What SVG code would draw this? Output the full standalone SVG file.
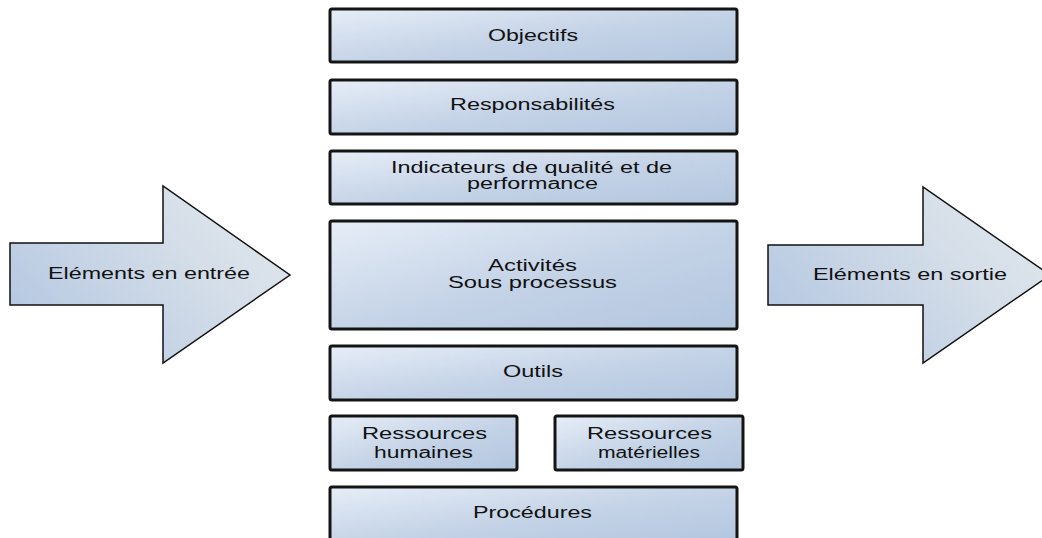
<svg xmlns="http://www.w3.org/2000/svg" width="1042" height="538" viewBox="0 0 1042 538">
<defs>
<linearGradient id="gb" x1="0" y1="0" x2="1" y2="1">
<stop offset="0" stop-color="#e6edf7"/>
<stop offset="0.55" stop-color="#c3d2e6"/>
<stop offset="1" stop-color="#b3c6df"/>
</linearGradient>
<linearGradient id="ga" x1="0" y1="0.6" x2="1" y2="0">
<stop offset="0" stop-color="#b8cae2"/>
<stop offset="0.6" stop-color="#d6dfe9"/>
<stop offset="1" stop-color="#e2e7ec"/>
</linearGradient>
<linearGradient id="ga2" x1="0" y1="0" x2="0.3" y2="1">
<stop offset="0" stop-color="#dde4ec" stop-opacity="0"/>
<stop offset="1" stop-color="#b8c9e1" stop-opacity="0.6"/>
</linearGradient>
</defs>
<style>
.box{fill:url(#gb);stroke:#141414;stroke-width:3;}
.arr{fill:url(#ga);stroke:#111;stroke-width:1.5;stroke-linejoin:miter;}
text{font-family:"Liberation Sans",Arial,sans-serif;font-size:16px;fill:#111;text-anchor:middle;}
</style>
<rect width="1042" height="538" fill="#fff"/>
<g id="entree">
<path class="arr" d="M10,243 L163,243 L163,186 L290,275 L163,363 L163,305 L10,305 Z"/>
<text x="149" y="279" textLength="202" lengthAdjust="spacingAndGlyphs">Eléments en entrée</text>
</g>
<g id="sortie">
<path class="arr" d="M768,245 L923,245 L923,187 L1050,275 L923,363 L923,305 L768,305 Z"/>
<text x="910" y="280" textLength="194" lengthAdjust="spacingAndGlyphs">Eléments en sortie</text>
</g>
<g id="objectifs">
<rect class="box" x="330" y="9" width="407" height="53" rx="2"/>
<text x="533" y="41" textLength="90" lengthAdjust="spacingAndGlyphs">Objectifs</text>
</g>
<g id="responsabilites">
<rect class="box" x="330" y="80" width="407" height="54" rx="2"/>
<text x="532.5" y="110" textLength="165" lengthAdjust="spacingAndGlyphs">Responsabilités</text>
</g>
<g id="indicateurs">
<rect class="box" x="330" y="151" width="407" height="53" rx="2"/>
<text x="531.5" y="173" textLength="281" lengthAdjust="spacingAndGlyphs">Indicateurs de qualité et de</text>
<text x="532.5" y="189" textLength="131" lengthAdjust="spacingAndGlyphs">performance</text>
</g>
<g id="activites">
<rect class="box" x="330" y="221" width="407" height="108" rx="2"/>
<text x="532.5" y="271" textLength="89" lengthAdjust="spacingAndGlyphs">Activités</text>
<text x="532.5" y="288" textLength="169" lengthAdjust="spacingAndGlyphs">Sous processus</text>
</g>
<g id="outils">
<rect class="box" x="330" y="346" width="407" height="54" rx="2"/>
<text x="533" y="377" textLength="60" lengthAdjust="spacingAndGlyphs">Outils</text>
</g>
<g id="rh">
<rect class="box" x="330" y="416" width="187" height="54" rx="2"/>
<text x="424.5" y="439" textLength="125" lengthAdjust="spacingAndGlyphs">Ressources</text>
<text x="423.5" y="458" textLength="99" lengthAdjust="spacingAndGlyphs">humaines</text>
</g>
<g id="rm">
<rect class="box" x="555" y="416" width="188" height="54" rx="2"/>
<text x="649.5" y="439" textLength="125" lengthAdjust="spacingAndGlyphs">Ressources</text>
<text x="649" y="458" textLength="102" lengthAdjust="spacingAndGlyphs">matérielles</text>
</g>
<g id="procedures">
<rect class="box" x="330" y="487" width="407" height="56" rx="2"/>
<text x="532.5" y="518" textLength="119" lengthAdjust="spacingAndGlyphs">Procédures</text>
</g>
<g id="connectors"></g>
</svg>
